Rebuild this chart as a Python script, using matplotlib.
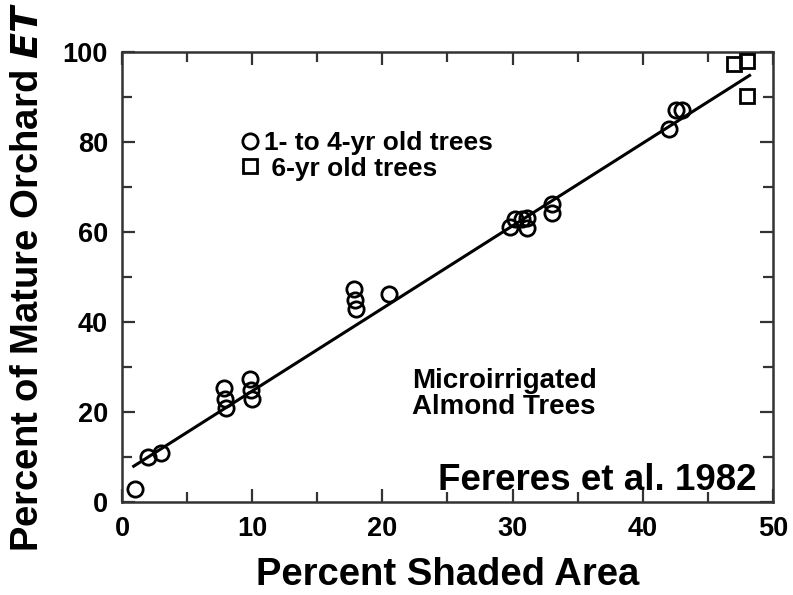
import matplotlib
matplotlib.use("Agg")
import matplotlib.pyplot as plt
import numpy as np

# 1- to 4-yr old trees (circles)
young_shade = [1, 2, 3, 7.8, 7.9, 8.0, 9.8, 9.9, 10.0, 17.8, 17.9, 18.0, 20.5,
               29.8, 30.2, 30.7, 31.1, 31.1, 33.0, 33.0, 42.0, 42.55, 43.0]
young_et = [3, 10, 11, 25.3, 23, 21, 27.3, 24.9, 23, 47.3, 45, 43, 46.2,
            61.2, 63.0, 62.8, 63.2, 61.0, 66.2, 64.2, 83.0, 87.2, 87.2]

# 6-yr old trees (squares)
old_shade = [47.0, 48.0, 48.0]
old_et = [97.3, 98.1, 90.2]

# regression line
fit_slope = 1.836
fit_intercept = 6.3
fit_range = [0.9, 48.2]

plt.rcParams['font.family'] = ['Liberation Sans', 'DejaVu Sans']
plt.rcParams['font.weight'] = 'bold'

fig = plt.figure(figsize=(7.93, 5.95), dpi=100)
ax = fig.add_axes([0.1538, 0.1563, 0.821, 0.7563])

xl = np.array(fit_range)
ax.plot(xl, fit_slope * xl + fit_intercept, color='black', lw=2.2, zorder=2)
ax.plot(young_shade, young_et, 'o', ms=11, mfc='none', mec='black', mew=2.0,
        label='1- to 4-yr old trees', zorder=3)
ax.plot(old_shade, old_et, 's', ms=9.5, mfc='none', mec='black', mew=2.0,
        label=' 6-yr old trees', zorder=3)

ax.set_xlim(0, 50)
ax.set_ylim(0, 100)
ax.set_xticks(np.arange(0, 51, 10))
ax.set_xticks(np.arange(0, 51, 5), minor=True)
ax.set_yticks(np.arange(0, 101, 20))
ax.set_yticks(np.arange(0, 101, 10), minor=True)
ax.tick_params(which='both', direction='in', top=True, right=True, width=1.6, color='#333333')
ax.tick_params(which='major', length=9.5, labelsize=19.5, pad=10)
ax.tick_params(which='minor', length=7)
for s in ax.spines.values():
    s.set_linewidth(1.8)
    s.set_color('#333333')

ax.set_xlabel('Percent Shaded Area', fontsize=27.5, fontweight='bold', labelpad=11)
ax.set_ylabel('Percent of Mature Orchard $\\mathbfit{ET}$', fontsize=27.5, fontweight='bold', labelpad=12)

leg = ax.legend(loc='upper left', bbox_to_anchor=(0.185, 0.824), frameon=False,
                fontsize=19, handlelength=0.6, handletextpad=0.2, labelspacing=0.05,
                borderaxespad=0, borderpad=0)

ax.text(0.445, 0.24, 'Microirrigated\nAlmond Trees', transform=ax.transAxes,
        fontsize=20, fontweight='bold', ha='left', va='center', linespacing=1.0)
ax.text(0.975, 0.027, 'Fereres et al. 1982', transform=ax.transAxes,
        fontsize=26.5, fontweight='bold', ha='right', va='baseline')

fig.savefig('out.png', dpi=100)
